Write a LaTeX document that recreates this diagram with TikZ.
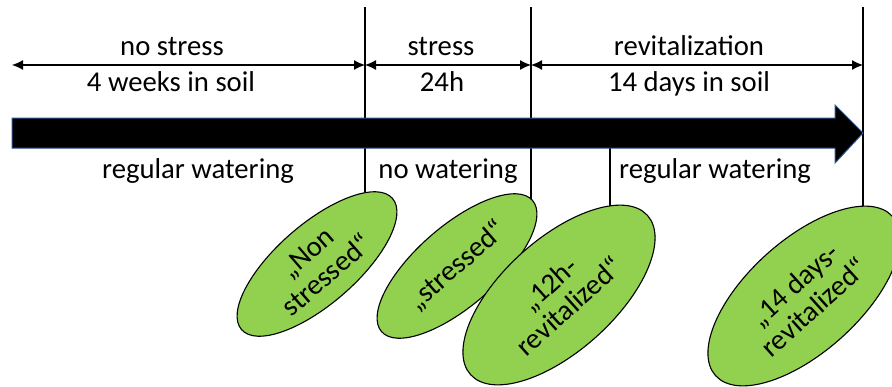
\documentclass[tikz,border=0pt]{standalone}
\usepackage{fontspec}
\setmainfont{Carlito}
\usetikzlibrary{arrows.meta,shapes.geometric,backgrounds}
\definecolor{leafgreen}{HTML}{92D050}
\definecolor{arrowedge}{HTML}{2F528F}
\begin{document}
\begin{tikzpicture}[x=1pt,y=-1pt,
  lbl/.style={font=\fontsize{28.7}{30}\selectfont, inner sep=0pt, anchor=base},
  conn/.style={draw=black, line width=1.1pt},
  span/.style={conn, {Latex[length=11pt,width=10pt]}-{Latex[length=11pt,width=10pt]}},
  sample/.style={ellipse, draw=black, line width=1.1pt, fill=leafgreen,
    inner sep=0pt, align=center, font=\fontsize{28.7}{30}\selectfont},
  smallsample/.style={sample, rotate=41, minimum width=200pt, minimum height=80pt},
  bigsample/.style={sample, rotate=42, minimum width=238pt, minimum height=112pt}]
\useasboundingbox (0,0) rectangle (892,386);
\clip (0,0) rectangle (892,386);

% time axis
\draw[fill=black, draw=arrowedge, line width=1pt]
  (12,118) -- (835,118) -- (835,105) -- (863,133) -- (835,163) -- (835,148) -- (12,148) -- cycle;

% boundary coordinates
\coordinate (s0) at (12,65);
\coordinate (t1) at (365,7);
\coordinate (t2) at (531,7);
\coordinate (t3) at (610,148);
\coordinate (t4) at (863,7);

% spans
\draw[span] (s0) -- (t1 |- s0);
\draw[span] (t1 |- s0) -- (t2 |- s0);
\draw[span] (t2 |- s0) -- (t4 |- s0);

% labels
\node[lbl] (p1a) at (172,55) {no stress};
\node[lbl] (p1b) at (171,91) {4 weeks in soil};
\node[lbl] (p2a) at (441,55) {stress};
\node[lbl] (p2b) at (442,91) {24h};
\node[lbl] (p3a) at (689,55) {revitalization};
\node[lbl] (p3b) at (689,91) {14 days in soil};
\node[lbl] (w1) at (198,178) {regular watering};
\node[lbl] (w2) at (448,178) {no watering};
\node[lbl] (w3) at (715,178) {regular watering};

% samples
\node[smallsample] (e1) at (317,264) {„Non\\stressed“};
\node[smallsample] (e2) at (457,266) {„stressed“};
\node[bigsample] (e3) at (559,295) {„12h-\\revitalized“};
\node[bigsample] (e4) at (804,296) {„14 days-\\revitalized“};

\begin{scope}[on background layer]
  \draw[conn] (t1) -- (t1 |- e1.east);
  \draw[conn] (t2) -- (t2 |- e2.east);
  \draw[conn] (t3) -- (t3 |- e3.east);
  \draw[conn] (t4) -- (t4 |- e4.east);
\end{scope}
\end{tikzpicture}
\end{document}
